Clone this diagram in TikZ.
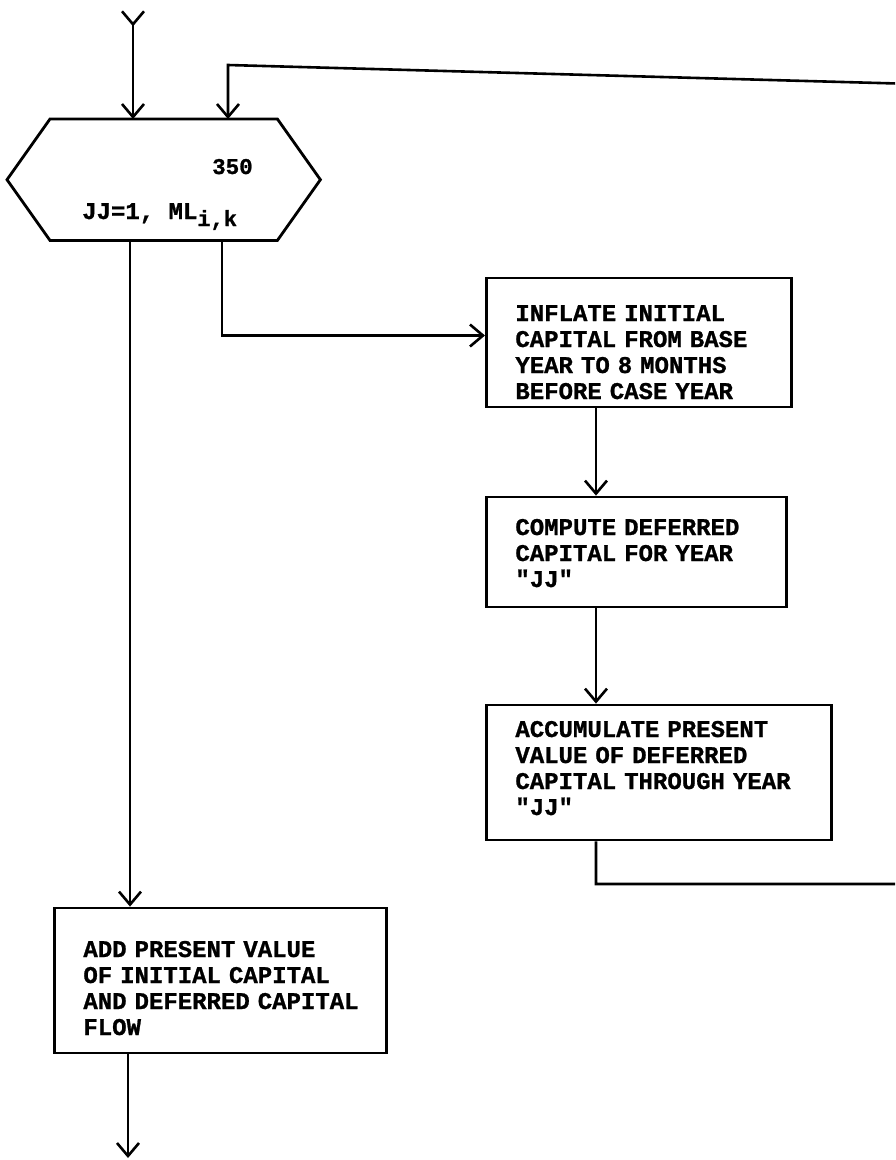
\documentclass[tikz,border=0pt]{standalone}
\usepackage{fontspec}
\setmonofont{Liberation Mono}[BoldFeatures={FakeBold=1}]
\usetikzlibrary{arrows.meta}

\newcommand{\boxlines}[1]{\begin{tabular}[t]{@{}l@{}}#1\end{tabular}}

\tikzset{
  flowbox/.style={draw, line width=2.8pt, rectangle, anchor=base west,
    inner xsep=29pt, inner ysep=0pt},
  flow/.style={line width=2.6pt, -{Straight Barb[length=13pt,width=22pt]}},
}

\begin{document}
\begin{tikzpicture}[x=1pt,y=-1pt,font=\ttfamily\bfseries\fontsize{24}{26}\selectfont]
    \useasboundingbox (0,0) rectangle (895,1160);
    \clip (0,0) rectangle (895,1160);

    % Loop header (hexagon)
    \node[minimum width=227pt, minimum height=121pt, inner sep=0pt, anchor=north west] (loop) at (50,119) {};
    \draw[line width=2.8pt] (loop.north west) -- (loop.north east) -- ([xshift=43pt]loop.east)
        -- (loop.south east) -- (loop.south west) -- ([xshift=-43pt]loop.west) -- cycle;
    \node[anchor=base west, inner sep=0pt, font=\ttfamily\bfseries\fontsize{22.5}{22.5}\selectfont] (hexnum) at (212,174) {350};
    \node[anchor=base west, inner sep=0pt] (hexrange) at (82,219) {JJ=1, ML\raisebox{-7pt}{\fontsize{22}{22}\selectfont i,k}};

    % Boxes
    \node[flowbox, text width=247pt, text height=43pt, text depth=86pt] (inflate) at (485,321)
        {\boxlines{INFLATE INITIAL\\CAPITAL FROM BASE\\YEAR TO 8 MONTHS\\BEFORE CASE YEAR}};
    \node[flowbox, text width=242pt, text height=38pt, text depth=72pt] (compute) at (485,535)
        {\boxlines{COMPUTE DEFERRED\\CAPITAL FOR YEAR\\"JJ"}};
    \node[flowbox, text width=287pt, text height=32pt, text depth=103pt] (accum) at (485,737)
        {\boxlines{ACCUMULATE PRESENT\\VALUE OF DEFERRED\\CAPITAL THROUGH YEAR\\"JJ"}};
    \node[flowbox, text width=274pt, text height=49pt, text depth=96pt] (add) at (53,957)
        {\boxlines{ADD PRESENT VALUE\\OF INITIAL CAPITAL\\AND DEFERRED CAPITAL\\FLOW}};

    % Guide coordinates
    \coordinate (in) at (133,10);
    \coordinate (lft) at (130,0);
    \coordinate (rgt) at (222,0);
    \coordinate (mid) at (596,0);
    \coordinate (retlow) at (915,884);
    \coordinate (rethigh) at (915,84);
    \coordinate (rettop) at (228,65);
    \coordinate (out) at (128,1158);

    % Connectors
    \draw[flow, {Straight Barb[reversed,length=13pt,width=22pt]}-{Straight Barb[length=13pt,width=22pt]}]
        (in) -- (in |- loop.north);
    \draw[flow] (lft |- loop.south) -- (lft |- add.north);
    \draw[flow] (rgt |- loop.south) |- ([yshift=7pt]inflate.west);
    \draw[flow] (mid |- inflate.south) -- (mid |- compute.north);
    \draw[flow] (mid |- compute.south) -- (mid |- accum.north);
    \draw[flow] (mid |- accum.south) |- (retlow) -- (rethigh) -- (rettop) -- (rettop |- loop.north);
    \draw[flow] (out |- add.south) -- (out);
\end{tikzpicture}
\end{document}
